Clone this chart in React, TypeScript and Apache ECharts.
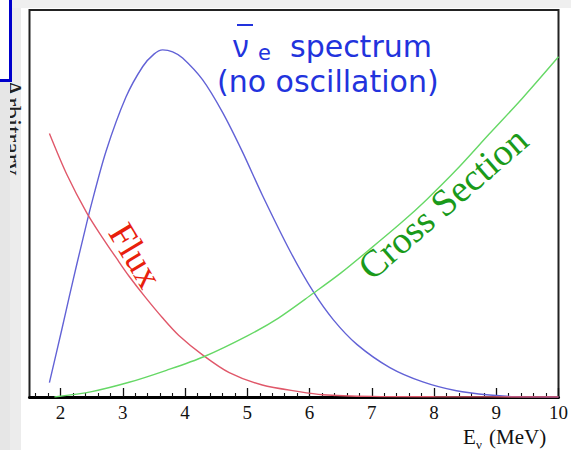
import React, { useEffect, useRef } from "react";
import * as echarts from "echarts";

// ---- data ----
const majorTicks = [2, 3, 4, 5, 6, 7, 8, 9, 10];
const minorTicks = [
  1.6, 1.8, 2.2, 2.4, 2.6, 2.8, 3.2, 3.4, 3.6, 3.8, 4.2, 4.4, 4.6, 4.8, 5.2, 5.4, 5.6, 5.8,
  6.2, 6.4, 6.6, 6.8, 7.2, 7.4, 7.6, 7.8, 8.2, 8.4, 8.6, 8.8, 9.2, 9.4, 9.6, 9.8,
];

const spectrumE = [1.82, 2.02, 2.14, 2.26, 2.36, 2.49, 2.73, 3.05, 3.32, 3.5, 3.64, 3.8, 3.96, 4.28, 4.6, 4.92, 5.24, 5.69, 6.06, 6.38, 6.76, 7.29, 7.82, 8.36, 8.89, 9.3, 10];
const spectrumV = [3.7, 17.5, 26.0, 34.3, 41.0, 49.5, 63.5, 77.5, 85.4, 88.6, 89.7, 89.2, 87.6, 82.0, 73.6, 63.4, 52.2, 37.6, 27.2, 20.0, 13.6, 7.6, 3.9, 1.6, 0.5, 0.1, 0];

const fluxE = [1.82, 2.1, 2.42, 2.68, 2.9, 3.1, 3.37, 3.64, 3.9, 4.28, 4.71, 5.24, 5.83, 6.21, 7.0, 8.0, 10];
const fluxV = [68.1, 57.5, 47.6, 41.0, 35.8, 31.2, 25.6, 20.4, 15.9, 10.9, 6.3, 3.1, 1.4, 0.6, 0.15, 0.05, 0];

const crossE = [1.9, 2.5, 3.1, 3.7, 4.3, 5.0, 5.5, 6.06, 6.5, 7.0, 7.5, 7.88, 8.36, 8.89, 9.42, 10];
const crossV = [0, 1.4, 3.8, 6.9, 10.4, 15.8, 20.4, 26.8, 32.0, 38.6, 45.4, 51.0, 58.7, 68.0, 77.2, 87.9];

const zip = (xs: number[], ys: number[]) => xs.map((x, i) => [x, ys[i]]);

export default function App() {
  const ref = useRef<HTMLDivElement>(null);
  useEffect(() => {
    if (!ref.current) return;
    const chart = echarts.init(ref.current, null, { renderer: "svg" });
    const serif = "Liberation Serif";
    const blue = "#2233dd";
    const lineSeries = (xs: number[], ys: number[], color: string) => ({
      type: "line",
      data: zip(xs, ys),
      smooth: 0.3,
      showSymbol: false,
      clip: true,
      lineStyle: { color, width: 1.4 },
    });
    chart.setOption({
      animation: false,
      backgroundColor: "#ffffff",
      grid: {
        left: 29.5,
        right: 12,
        top: 10,
        bottom: 53,
        show: true,
        borderColor: "#222",
        borderWidth: 2,
        backgroundColor: "#fff",
      },
      xAxis: [
        {
          type: "value",
          min: 1.5,
          max: 10,
          position: "bottom",
          axisLine: { show: true, onZero: false, lineStyle: { color: "#000", width: 3 } },
          axisTick: { show: true, inside: true, length: 9, customValues: majorTicks, lineStyle: { color: "#111", width: 1.3 } },
          axisLabel: {
            show: true,
            customValues: majorTicks,
            color: "#111",
            fontFamily: serif,
            fontSize: 19,
            margin: 6,
          },
          splitLine: { show: false },
        },
        {
          type: "value",
          min: 1.5,
          max: 10,
          position: "bottom",
          offset: 0,
          axisLine: { show: false },
          axisTick: { show: true, inside: true, length: 4, customValues: minorTicks, lineStyle: { color: "#111", width: 1.1 } },
          axisLabel: { show: false },
          splitLine: { show: false },
        },
      ],
      yAxis: { type: "value", min: 0, max: 100, show: false },
      series: [
        lineSeries(spectrumE, spectrumV, "#6262d6"),
        lineSeries(fluxE, fluxV, "#e0586a"),
        lineSeries(crossE, crossV, "#66d866"),
      ],
      graphic: [
        { type: "rect", silent: true, shape: { x: 0, y: 0, width: 21, height: 450 }, style: { fill: "#ececec" } },
        { type: "rect", silent: true, shape: { x: 0, y: 0, width: 571, height: 8 }, style: { fill: "#efefef" } },
        {
          type: "text",
          x: 12,
          y: 127,
          rotation: -Math.PI / 2,
          style: { text: "Arbitrary", fontFamily: serif, fontSize: 26, fill: "#222", align: "center", verticalAlign: "middle" },
        },
        { type: "rect", silent: true, shape: { x: 0, y: 82, width: 10, height: 368 }, style: { fill: "#e6e6e6" } },
        { type: "rect", silent: true, shape: { x: 0, y: 0, width: 10, height: 79 }, style: { fill: "#ffffff" } },
        { type: "line", shape: { x1: 10.5, y1: 0, x2: 10.5, y2: 81 }, style: { stroke: "#0000cc", lineWidth: 3 } },
        { type: "line", shape: { x1: 0, y1: 80.5, x2: 12, y2: 80.5 }, style: { stroke: "#0000cc", lineWidth: 3 } },
        // title
        { type: "text", x: 233, y: 45, style: { text: "ν", fontFamily: "Noto Sans", fontSize: 30, lineHeight: 22, fill: blue, align: "left", verticalAlign: "middle" } },
        { type: "line", shape: { x1: 237, y1: 25, x2: 253, y2: 25 }, style: { stroke: blue, lineWidth: 2 } },
        { type: "text", x: 258, y: 53, style: { text: "e", fontFamily: "DejaVu Sans", fontSize: 21, lineHeight: 14, fill: blue, align: "left", verticalAlign: "middle" } },
        { type: "text", x: 290, y: 46, style: { text: "spectrum", fontFamily: "DejaVu Sans", fontSize: 30, fill: blue, align: "left", verticalAlign: "middle" } },
        { type: "text", x: 217, y: 81, style: { text: "(no oscillation)", fontFamily: "DejaVu Sans", fontSize: 30, fill: blue, align: "left", verticalAlign: "middle" } },
        // curve labels
        {
          type: "text",
          x: 135.7,
          y: 255.3,
          rotation: (-59 * Math.PI) / 180,
          style: { text: "Flux", fontFamily: serif, fontSize: 37, fill: "#e8200c", align: "center", verticalAlign: "middle" },
        },
        {
          type: "text",
          x: 442.7,
          y: 203,
          rotation: (41 * Math.PI) / 180,
          style: { text: "Cross Section", fontFamily: serif, fontSize: 38, fill: "#1a9a1a", align: "center", verticalAlign: "middle" },
        },
        // axis name
        { type: "text", x: 463, y: 437, style: { text: "E", fontFamily: serif, fontSize: 21, fill: "#111", align: "left", verticalAlign: "middle" } },
        { type: "text", x: 476, y: 444, style: { text: "ν", fontFamily: serif, fontSize: 13, fill: "#111", align: "left", verticalAlign: "middle" } },
        { type: "text", x: 489, y: 437, style: { text: "(MeV)", fontFamily: serif, fontSize: 21, fill: "#111", align: "left", verticalAlign: "middle" } },
      ],
    });
    return () => chart.dispose();
  }, []);
  return <div ref={ref} style={{ position: "absolute", left: 0, top: 0, width: 571, height: 450 }} />;
}
